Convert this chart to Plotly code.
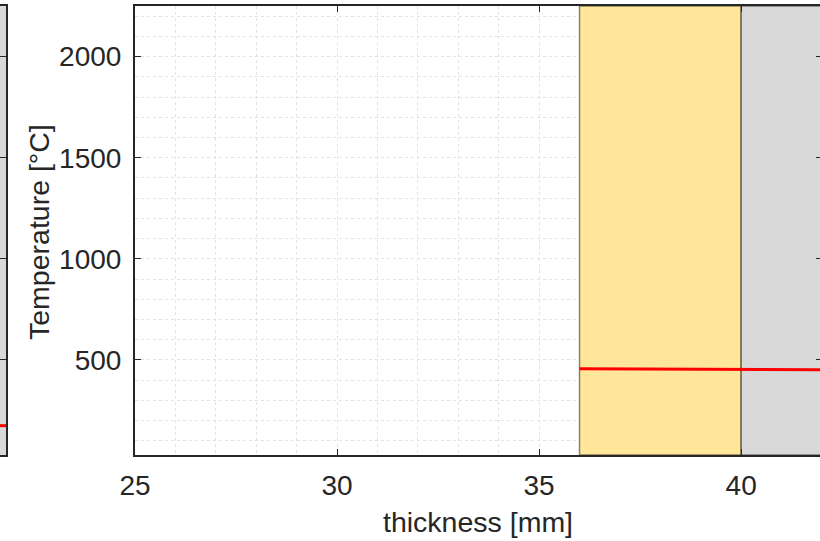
import plotly.graph_objects as go

# Axis ticks
x_ticks = [25, 30, 35, 40]
y_ticks = [500, 1000, 1500, 2000]

# Wall layers (thickness position in mm)
layer_start = [36, 40]
layer_end = [40, 42]
layer_colors = ["#FFE699", "#D9D9D9"]

# Temperature profile through the layers
profile_x = [36, 40, 42]
profile_T = [457, 453, 452]

# Neighbouring panel (cold side)
side_x = [0, 1]
side_T = [175, 175]

W, H = 822, 541
TOP, BOTTOM = 6, 455
AX_COLOR = "#262626"
FONT = "Liberation Sans, Arial, Helvetica, sans-serif"
GRID = "#e3e3e3"
TICK_SIZE = 28
TITLE_SIZE = 28.5

fig = go.Figure()

# Layer patches
for x0, x1, c in zip(layer_start, layer_end, layer_colors):
    fig.add_trace(go.Scatter(
        x=[x0, x1, x1, x0, x0], y=[30, 30, 2250, 2250, 30],
        mode="lines", fill="toself", fillcolor=c,
        line=dict(color="rgba(0,0,0,0.45)", width=1.5),
        hoverinfo="skip", showlegend=False, xaxis="x", yaxis="y"))

fig.add_trace(go.Scatter(
    x=profile_x, y=profile_T, mode="lines",
    line=dict(color="#ff0000", width=3),
    showlegend=False, xaxis="x", yaxis="y"))

# Side panel
fig.add_trace(go.Scatter(
    x=[0, 1, 1, 0, 0], y=[30, 30, 2250, 2250, 30],
    mode="lines", fill="toself", fillcolor="#D9D9D9",
    line=dict(width=0), hoverinfo="skip", showlegend=False,
    xaxis="x2", yaxis="y2"))
fig.add_trace(go.Scatter(
    x=side_x, y=side_T, mode="lines",
    line=dict(color="#ff0000", width=3),
    showlegend=False, xaxis="x2", yaxis="y2"))

plot_h = BOTTOM - TOP

fig.update_layout(
    width=W, height=H,
    margin=dict(l=0, r=0, t=TOP, b=H - BOTTOM, pad=0, autoexpand=False),
    paper_bgcolor="white", plot_bgcolor="rgba(0,0,0,0)",
    font=dict(family=FONT, color=AX_COLOR, size=TICK_SIZE),
    xaxis=dict(
        domain=[135 / W, 1], range=[25, 42], automargin=False,
        tickmode="array", tickvals=x_ticks, ticktext=[str(v) for v in x_ticks],
        ticks="inside", ticklen=6, tickwidth=1, tickcolor=AX_COLOR,
        showline=True, linecolor=AX_COLOR, linewidth=2, mirror="ticks",
        showgrid=True, gridcolor=GRID, griddash="dot", gridwidth=1,
        minor=dict(dtick=1, tick0=25, showgrid=True, gridcolor=GRID,
                   griddash="dot", gridwidth=1, ticks=""),
        zeroline=False, ticklabelstandoff=4,
        tickfont=dict(size=TICK_SIZE, color=AX_COLOR)),
    yaxis=dict(
        domain=[0, 1], range=[30, 2250], automargin=False,
        tickmode="array", tickvals=y_ticks, ticktext=[str(v) for v in y_ticks],
        ticks="inside", ticklen=6, tickwidth=1, tickcolor=AX_COLOR,
        showline=True, linecolor=AX_COLOR, linewidth=2, mirror="ticks",
        showgrid=True, gridcolor=GRID, griddash="dot", gridwidth=1,
        minor=dict(dtick=100, tick0=0, showgrid=True, gridcolor=GRID,
                   griddash="dot", gridwidth=1, ticks=""),
        zeroline=False, ticklabelstandoff=6,
        tickfont=dict(size=TICK_SIZE, color=AX_COLOR)),
    xaxis2=dict(
        domain=[0, 6 / W], range=[0, 1], anchor="y2", automargin=False,
        showticklabels=False, ticks="", showgrid=False, zeroline=False,
        showline=True, linecolor=AX_COLOR, linewidth=2, mirror=True),
    yaxis2=dict(
        domain=[0, 1], range=[30, 2250], anchor="x2", automargin=False,
        tickmode="array", tickvals=y_ticks, showticklabels=False,
        ticks="inside", ticklen=6, tickwidth=1, tickcolor=AX_COLOR,
        showline=True, linecolor=AX_COLOR, linewidth=2, mirror="ticks",
        showgrid=False, zeroline=False),
    annotations=[
        dict(text="thickness [mm]", xref="paper", yref="paper",
             x=478 / W, y=(BOTTOM - 522) / plot_h, xanchor="center", yanchor="middle",
             showarrow=False, font=dict(size=TITLE_SIZE, color=AX_COLOR)),
        dict(text="Temperature [°C]", xref="paper", yref="paper",
             x=39 / W, y=(BOTTOM - 232) / plot_h, xanchor="center", yanchor="middle",
             textangle=-90, showarrow=False, font=dict(size=TITLE_SIZE, color=AX_COLOR)),
    ],
)

fig.write_html("out.html",
               post_script="document.documentElement.style.overflow='hidden';"
                           "document.body.style.overflow='hidden';")
